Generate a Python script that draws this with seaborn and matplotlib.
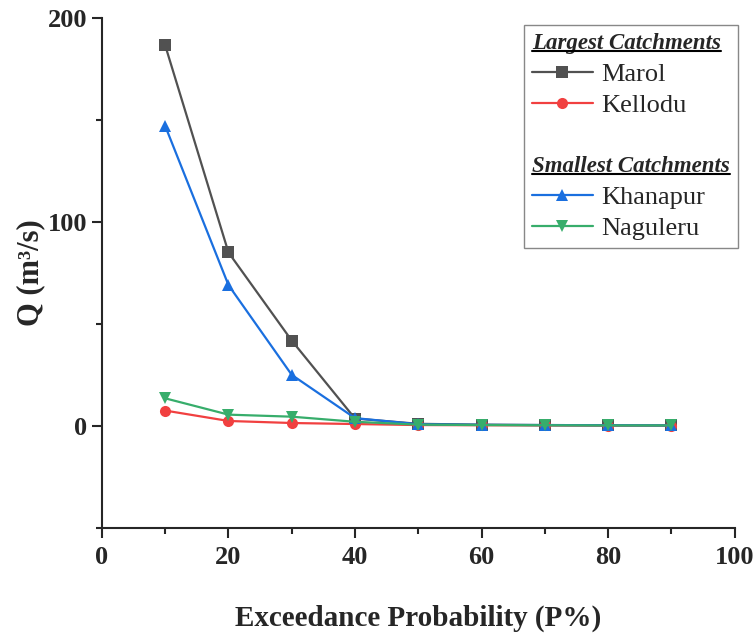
import numpy as np
import pandas as pd
import matplotlib
matplotlib.use("Agg")
import matplotlib.pyplot as plt
import seaborn as sns
from matplotlib.lines import Line2D
from matplotlib.ticker import MultipleLocator

# exceedance probability (%) and flow (m3/s)
prob = [10, 20, 30, 40, 50, 60, 70, 80, 90]
marol = [186.5, 85.0, 41.8, 3.6, 1.0, 0.6, 0.4, 0.3, 0.2]
kellodu = [7.5, 2.4, 1.4, 0.9, 0.4, 0.3, 0.2, 0.1, 0.1]
khanapur = [147.0, 69.0, 25.0, 3.8, 0.8, 0.5, 0.4, 0.3, 0.2]
naguleru = [13.5, 5.5, 4.5, 2.0, 0.6, 0.4, 0.3, 0.2, 0.2]

series = ["Marol", "Kellodu", "Khanapur", "Naguleru"]
colors = ["#515151", "#F14040", "#1A6FDF", "#37AD6B"]
markers = ["s", "o", "^", "v"]

df = pd.DataFrame({"P": prob * 4,
                   "Q": marol + kellodu + khanapur + naguleru,
                   "site": np.repeat(series, len(prob))})

sns.set_style("ticks")
plt.rcParams["font.family"] = ["Liberation Serif", "DejaVu Serif"]
plt.rcParams["font.weight"] = "bold"

fig = plt.figure(figsize=(7.55, 6.36), dpi=100)
ax = fig.add_axes([0.135, 0.170, 0.838, 0.802])

for name, c, m in zip(series, colors, markers):
    sub = df[df["site"] == name]
    sns.lineplot(data=sub, x="P", y="Q", ax=ax, color=c, marker=m,
                 markersize=8, markeredgewidth=0, linewidth=1.6, label=name)

ax.set_xlim(0, 100)
ax.set_ylim(-50, 200)
ax.xaxis.set_major_locator(MultipleLocator(20))
ax.xaxis.set_minor_locator(MultipleLocator(10))
ax.yaxis.set_major_locator(MultipleLocator(100))
ax.yaxis.set_minor_locator(MultipleLocator(50))
ax.tick_params(which="major", length=7, width=1.5, labelsize=19)
ax.tick_params(axis="x", which="major", pad=6)
ax.tick_params(which="minor", length=4, width=1.5)
for t in ax.get_xticklabels() + ax.get_yticklabels():
    t.set_fontweight("bold")
for s in ["left", "bottom"]:
    ax.spines[s].set_linewidth(1.5)
sns.despine(ax=ax)

ax.set_xlabel("Exceedance Probability (P%)", fontsize=21, fontweight="bold", labelpad=26)
ax.set_ylabel("Q (m³/s)", fontsize=22, fontweight="bold", labelpad=2)

# legend with group headers
lines = ax.get_lines()
blank = Line2D([], [], linestyle="none", marker="")
handles = [blank, lines[0], lines[1], blank, blank, lines[2], lines[3]]
labels = ["Largest Catchments", "Marol", "Kellodu", " ", "Smallest Catchments",
          "Khanapur", "Naguleru"]
leg = ax.legend(handles, labels, loc="upper right", bbox_to_anchor=(1.005, 0.985),
                fancybox=False, edgecolor="#888888", framealpha=1,
                prop={"family": "Liberation Serif", "size": 19, "weight": "normal"},
                handlelength=2.3, handletextpad=0.3, labelspacing=0.3,
                borderpad=0.3, borderaxespad=0)
leg.get_frame().set_linewidth(1.0)

texts = leg.get_texts()
headers = [0, 4]
rows = leg._legend_handle_box.get_children()[0].get_children()
for i in headers:
    texts[i].set_fontstyle("italic")
    texts[i].set_fontweight("bold")
    texts[i].set_fontsize(16.5)
    kids = rows[i].get_children()
    del kids[0]

fig.canvas.draw()
r = fig.canvas.get_renderer()
inv = fig.transFigure.inverted()
for i in headers:
    bb = texts[i].get_window_extent(r)
    (x0, y0), (x1, _) = inv.transform([[bb.x0, bb.y0 + 3], [bb.x1, bb.y0 + 3]])
    fig.add_artist(Line2D([x0, x1], [y0, y0], color="black", linewidth=1.5,
                          transform=fig.transFigure))

fig.savefig("out.png", dpi=100)
